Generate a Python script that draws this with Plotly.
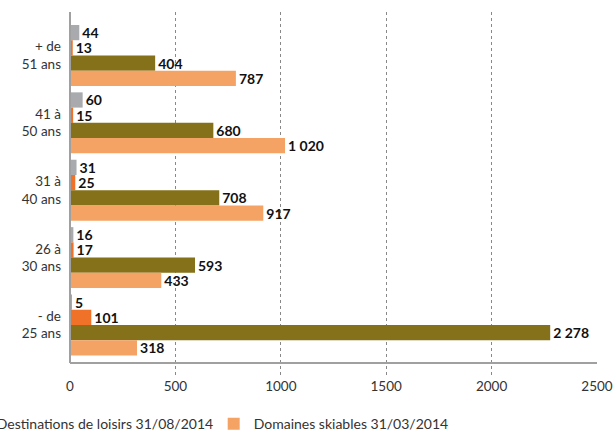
import plotly.graph_objects as go

categories = ["+ de<br>51 ans", "41 à<br>50 ans", "31 à<br>40 ans", "26 à<br>30 ans", "- de<br>25 ans"]
serie_gris = [44, 60, 31, 16, 5]
serie_orange = [13, 15, 25, 17, 101]
destinations_loisirs = [404, 680, 708, 593, 2278]
domaines_skiables = [787, 1020, 917, 433, 318]
x_ticks = [0, 500, 1000, 1500, 2000, 2500]

def fmt(v):
    return f"{v:,}".replace(",", " ")

series = [
    ("Série 1", serie_gris, "#a8aaae", False),
    ("Série 2", serie_orange, "#ef7228", False),
    ("Destinations de loisirs 31/08/2014", destinations_loisirs, "#857119", True),
    ("Domaines skiables 31/03/2014", domaines_skiables, "#f5a364", True),
]

FONT = "Lato"

fig = go.Figure()
for name, vals, color, show in series:
    fig.add_trace(go.Bar(
        y=categories, x=vals, orientation="h", name=name,
        marker=dict(color=color, line=dict(width=0)),
        text=[fmt(v) for v in vals], textposition="outside",
        textfont=dict(family=FONT, size=14, color="#111", weight="bold"),
        constraintext="none", cliponaxis=False, showlegend=show,
    ))

fig.update_layout(
    width=615, height=432,
    margin=dict(l=70, r=18, t=12, b=56, autoexpand=False),
    barmode="group", bargap=0.095, bargroupgap=0,
    plot_bgcolor="white", paper_bgcolor="white",
    font=dict(family=FONT, size=13, color="#333"),
    xaxis=dict(range=[0, 2500], tickvals=x_ticks, ticktext=[str(t) for t in x_ticks],
               showgrid=True, gridcolor="#888", griddash="dot", gridwidth=1,
               zeroline=False, showline=False, ticks="", tickfont=dict(size=13.5, color="#333")),
    yaxis=dict(categoryorder="array", categoryarray=categories,
               range=[4.757, -0.645], showgrid=False, zeroline=False, showline=False,
               ticks="", ticklabelstandoff=8, tickfont=dict(size=13.5, color="#333")),
    legend=dict(orientation="h", x=-0.215, xanchor="left", y=-0.132, yanchor="middle",
                entrywidth=212, entrywidthmode="pixels",
                font=dict(size=14, color="#333"), bgcolor="rgba(0,0,0,0)"),
    shapes=[
        dict(type="line", xref="paper", yref="paper", x0=0, x1=1, y0=0.0357, y1=0.0357,
             line=dict(color="#a0a0a0", width=2)),
        dict(type="line", xref="paper", yref="paper", x0=0, x1=0, y0=0.0357, y1=1,
             line=dict(color="#a0a0a0", width=2)),
    ],
)

fig.write_html("out.html")
